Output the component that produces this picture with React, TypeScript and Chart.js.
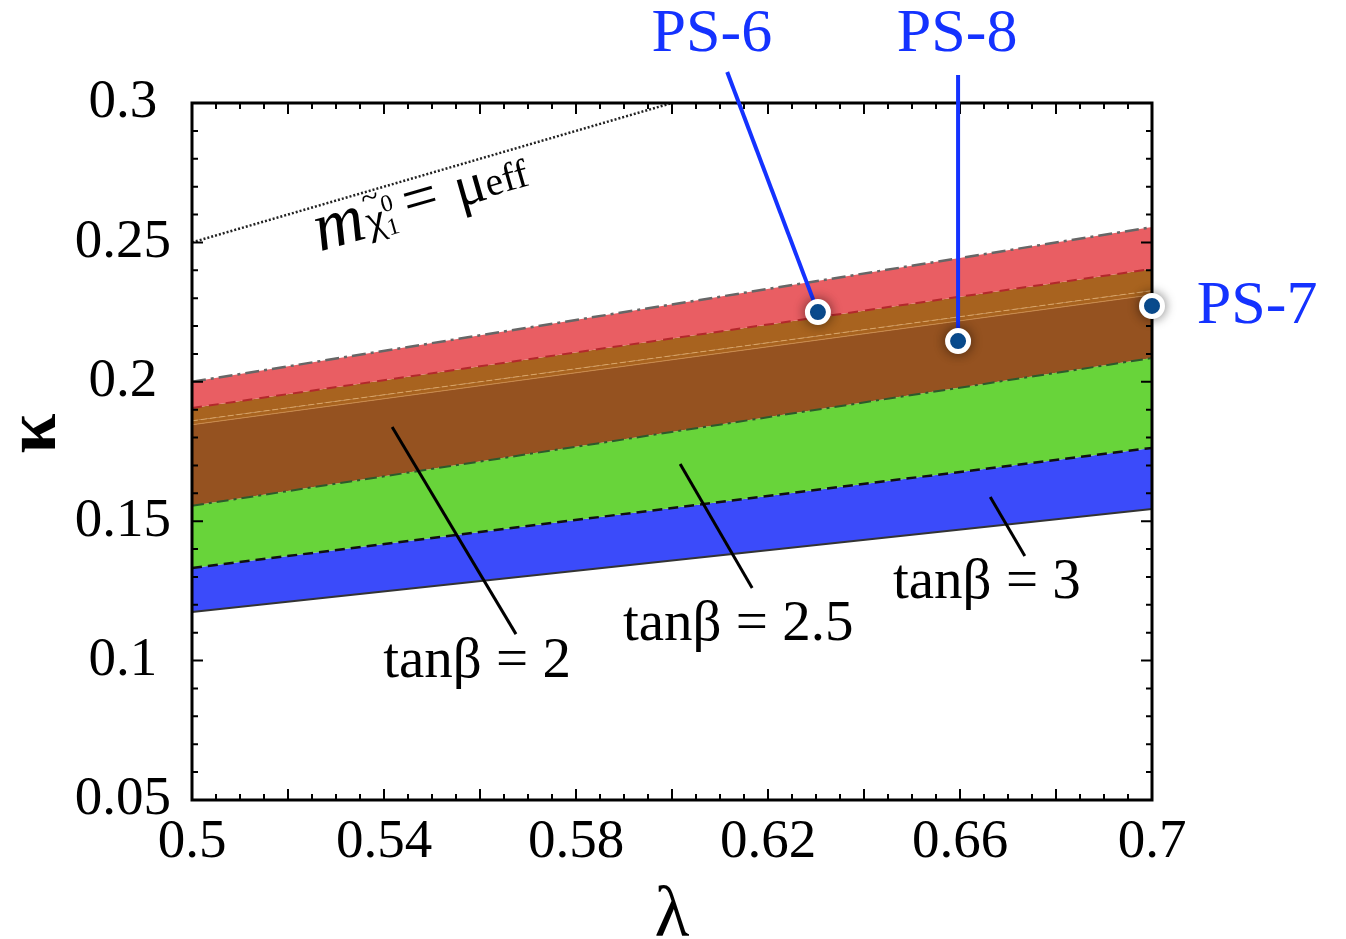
import React, { useEffect, useRef } from 'react';
import { Chart, registerables } from 'chart.js';

Chart.register(...registerables);

// ---------- data ----------
const lambdaEdges = [0.5, 0.7];
const kappaBottom = [0.1174, 0.1544];
const kappaBlueTop = [0.1332, 0.1763];
const kappaGreenTop = [0.1555, 0.2085];
const kappaBrownLow = [0.1846, 0.2312];
const kappaBrownHigh = [0.186, 0.2327];
const kappaRedLow = [0.1906, 0.2405];
const kappaTop = [0.2, 0.2555];

const dottedLambda = [0.5, 0.6];
const dottedKappa = [0.25, 0.3];

const psNames = ['PS-6', 'PS-7', 'PS-8'];
const psLambda = [0.6304, 0.7, 0.6596];
const psKappa = [0.225, 0.2272, 0.2146];
const psLabelLambda = [0.6083, 0.7219, 0.6594];
const psLabelKappa = [0.3244, 0.2268, 0.3244];
const callout6 = [[0.6115, 0.3111], [0.6304, 0.225]];
const callout8 = [[0.6596, 0.31], [0.6596, 0.2146]];

const tanbNames = ['tanβ = 2', 'tanβ = 2.5', 'tanβ = 3'];
const tanbLabelLambda = [0.5594, 0.6138, 0.6656];
const tanbLabelKappa = [0.0995, 0.1128, 0.1278];
const tanbPtrStartLambda = [0.5417, 0.6017, 0.6663];
const tanbPtrStartKappa = [0.1838, 0.1705, 0.1587];
const tanbPtrEndLambda = [0.5675, 0.6167, 0.6735];
const tanbPtrEndKappa = [0.1095, 0.126, 0.1375];

const massLabelPos = [0.5488, 0.2577];

const xTickLabels = ['0.5', '0.54', '0.58', '0.62', '0.66', '0.7'];
const yTickLabels = ['0.05', '0.1', '0.15', '0.2', '0.25', '0.3'];

const SERIF = '"Liberation Serif", "DejaVu Serif", serif';

const pts = (xs: number[], ys: number[]) => xs.map((x, i) => ({ x, y: ys[i] }));

function labelFor(list: string[], v: number) {
  const f = list.find((l) => Math.abs(parseFloat(l) - v) < 1e-6);
  return f === undefined ? '' : f;
}

function drawFrame(chart: any) {
  const { ctx, chartArea: a, scales } = chart;
  const x = scales.x, y = scales.y;
  ctx.save();
  ctx.strokeStyle = '#000';
  ctx.lineWidth = 2;
  ctx.beginPath();
  for (let i = 0; i <= 40; i++) {
    const px = x.getPixelForValue(0.5 + i * 0.005);
    const len = i % 4 === 0 ? 11 : 6;
    ctx.moveTo(px, a.bottom); ctx.lineTo(px, a.bottom - len);
    ctx.moveTo(px, a.top); ctx.lineTo(px, a.top + len);
  }
  for (let i = 0; i <= 25; i++) {
    const py = y.getPixelForValue(0.05 + i * 0.01);
    const len = i % 5 === 0 ? 11 : 6;
    ctx.moveTo(a.left, py); ctx.lineTo(a.left + len, py);
    ctx.moveTo(a.right, py); ctx.lineTo(a.right - len, py);
  }
  ctx.stroke();
  ctx.lineWidth = 3;
  ctx.strokeRect(a.left, a.top, a.right - a.left, a.bottom - a.top);
  ctx.restore();
}

function drawMassLabel(ctx: CanvasRenderingContext2D, cx: number, cy: number) {
  ctx.save();
  ctx.translate(cx, cy);
  ctx.rotate((-16 * Math.PI) / 180);
  ctx.fillStyle = '#000';
  ctx.textBaseline = 'alphabetic';
  ctx.textAlign = 'left';
  const fm = `italic 70px ${SERIF}`;
  const fchi = `42px ${SERIF}`;
  const fsmall = `24px ${SERIF}`;
  const feq = `62px ${SERIF}`;
  const fmu = `58px ${SERIF}`;
  const feff = `40px ${SERIF}`;
  const w = (t: string, f: string) => { ctx.font = f; return ctx.measureText(t).width; };
  const wm = w('m', fm);
  const wchi = w('χ', fchi);
  const wsm = Math.max(w('0', fsmall), w('1', fsmall));
  const weq = w('=', feq);
  const wmu = w('μ', fmu);
  const weff = w('eff', feff);
  const total = wm + 2 + wchi + wsm + 10 + weq + 18 + wmu + weff;
  let x = -total / 2;
  ctx.font = fm; ctx.fillText('m', x, 0); x += wm + 2;
  ctx.font = fchi; ctx.fillText('χ', x, -2);
  ctx.font = `32px ${SERIF}`; ctx.fillText('~', x + wchi / 2 - 8, -28);
  x += wchi;
  ctx.font = fsmall; ctx.fillText('0', x, -20); ctx.fillText('1', x, 4);
  x += wsm + 10;
  ctx.font = feq; ctx.fillText('=', x, -4); x += weq + 18;
  ctx.font = fmu; ctx.fillText('μ', x, -4); x += wmu;
  ctx.font = feff; ctx.fillText('eff', x, -6);
  ctx.restore();
}

const annotPlugin = {
  id: 'annot',
  beforeDatasetDraw(chart: any, args: any) {
    if (args.index === 0) {
      const ctx = chart.ctx;
      ctx.save();
      ctx.shadowColor = 'rgba(0,0,0,0.45)';
      ctx.shadowBlur = 12;
    }
  },
  afterDatasetDraw(chart: any, args: any) {
    if (args.index === 0) chart.ctx.restore();
    if (args.index === 3) drawFrame(chart);
  },
  afterDraw(chart: any) {
    const { ctx, scales } = chart;
    const x = scales.x, y = scales.y;
    ctx.save();
    ctx.textAlign = 'center';
    ctx.textBaseline = 'middle';
    ctx.fillStyle = '#1432ff';
    ctx.font = `62px ${SERIF}`;
    psNames.forEach((n, i) => {
      ctx.fillText(n, x.getPixelForValue(psLabelLambda[i]), y.getPixelForValue(psLabelKappa[i]));
    });
    ctx.fillStyle = '#000';
    ctx.font = `57px ${SERIF}`;
    tanbNames.forEach((n, i) => {
      ctx.fillText(n, x.getPixelForValue(tanbLabelLambda[i]), y.getPixelForValue(tanbLabelKappa[i]));
    });
    ctx.restore();
    drawMassLabel(ctx, x.getPixelForValue(massLabelPos[0]), y.getPixelForValue(massLabelPos[1]));
  },
};

export default function App() {
  const ref = useRef<HTMLCanvasElement | null>(null);
  useEffect(() => {
    if (!ref.current) return;
    const band = (data: number[], color: string, dash: number[], width: number, fill: any, bg?: string) => ({
      type: 'line' as const,
      data: pts(lambdaEdges, data),
      borderColor: color,
      borderDash: dash,
      borderWidth: width,
      pointRadius: 0,
      fill,
      backgroundColor: bg || 'transparent',
      tension: 0,
    });
    const ptr = (i: number) => ({
      type: 'line' as const,
      data: [
        { x: tanbPtrStartLambda[i], y: tanbPtrStartKappa[i] },
        { x: tanbPtrEndLambda[i], y: tanbPtrEndKappa[i] },
      ],
      borderColor: '#000',
      borderWidth: 3,
      pointRadius: 0,
      fill: false,
    });
    const chart = new Chart(ref.current, {
      type: 'line',
      data: {
        datasets: [
          {
            type: 'scatter',
            data: pts(psLambda, psKappa),
            pointRadius: 10.5,
            pointBorderWidth: 5,
            pointBackgroundColor: '#0b58a6',
            pointBorderColor: '#ffffff',
            showLine: false,
            clip: false,
          } as any,
          {
            type: 'line',
            data: callout6.map((p) => ({ x: p[0], y: p[1] })),
            borderColor: '#1432ff',
            borderWidth: 4,
            pointRadius: 0,
            fill: false,
            clip: false,
          },
          {
            type: 'line',
            data: callout8.map((p) => ({ x: p[0], y: p[1] })),
            borderColor: '#1432ff',
            borderWidth: 4,
            pointRadius: 0,
            fill: false,
            clip: false,
          },
          ptr(0),
          ptr(1),
          ptr(2),
          {
            type: 'line',
            data: pts(dottedLambda, dottedKappa),
            borderColor: '#222',
            borderDash: [2, 2],
            borderWidth: 2.5,
            pointRadius: 0,
            fill: false,
          },
          band(kappaTop, '#666666', [14, 5, 3, 5], 2.5, 8, '#e95e63'),
          band(kappaRedLow, '#b3282c', [10, 7], 2, 9, '#a8631f'),
          band(kappaBrownHigh, '#d9a466', [6, 3], 1, 10, '#a8631f'),
          band(kappaBrownLow, '#c98a4c', [], 1, 11, '#955220'),
          band(kappaGreenTop, '#2c5a2c', [12, 5, 3, 5], 2, 12, '#68d43a'),
          band(kappaBlueTop, '#111111', [10, 6], 2.5, 13, '#3b4bfa'),
          band(kappaBottom, '#333333', [], 2, false),
        ] as any,
      },
      options: {
        animation: false,
        responsive: false,
        events: [],
        layout: { padding: { left: 0, right: 194, top: 103, bottom: 0 } },
        plugins: {
          legend: { display: false },
          tooltip: { enabled: false },
          filler: { drawTime: 'beforeDatasetsDraw' },
        } as any,
        scales: {
          x: {
            type: 'linear',
            min: 0.5,
            max: 0.7,
            grid: { display: false, drawTicks: false },
            border: { display: false },
            ticks: {
              stepSize: 0.04,
              padding: 10,
              color: '#000',
              font: { family: SERIF, size: 55 },
              maxRotation: 0,
              autoSkip: false,
              callback: (v: any) => labelFor(xTickLabels, Number(v)),
            },
            title: {
              display: true,
              text: 'λ',
              color: '#000',
              font: { family: SERIF, size: 72, lineHeight: 0.6 },
              padding: 0,
            },
            afterFit: (s: any) => { s.height = 139; },
          },
          y: {
            type: 'linear',
            min: 0.05,
            max: 0.3,
            grid: { display: false, drawTicks: false },
            border: { display: false },
            ticks: {
              stepSize: 0.05,
              padding: 21,
              crossAlign: 'center',
              color: '#000',
              font: { family: SERIF, size: 55 },
              autoSkip: false,
              callback: (v: any) => labelFor(yTickLabels, Number(v)),
            },
            title: {
              display: true,
              text: '  κ',
              color: '#000',
              font: { family: SERIF, size: 72, weight: 'bold', lineHeight: 1 },
              padding: 0,
            },
            afterFit: (s: any) => { s.width = 192; },
          },
        },
      },
      plugins: [annotPlugin as any],
    });
    return () => chart.destroy();
  }, []);
  return (
    <div style={{ position: 'fixed', left: 0, top: 0, width: 1346, height: 939, background: '#fff' }}>
      <canvas ref={ref} width={1346} height={939} />
    </div>
  );
}
